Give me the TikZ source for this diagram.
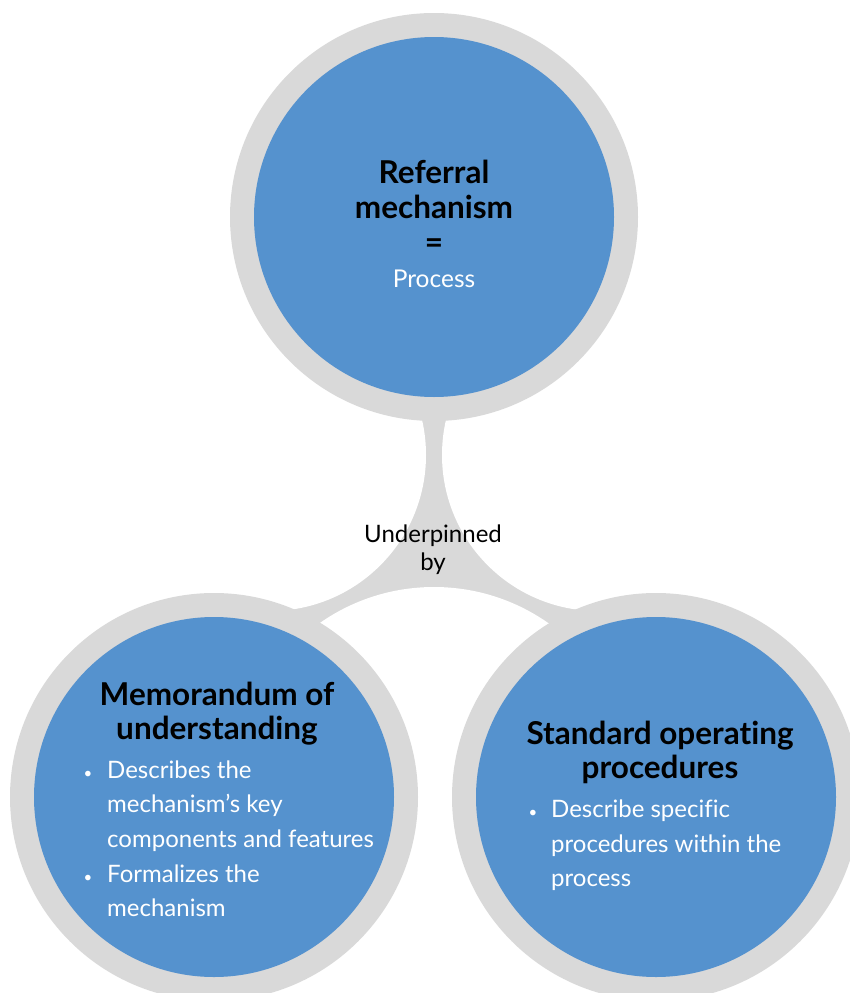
\documentclass[tikz,border=0pt]{standalone}
\usepackage{fontspec}
\setmainfont{Lato}[Ligatures=NoCommon]
\definecolor{blu}{RGB}{85,146,206}
\definecolor{gry}{RGB}{217,217,217}
\begin{document}
\begin{tikzpicture}[x=1pt,y=-1pt,
  ring/.style={circle,fill=gry,minimum size=408pt,inner sep=0pt},
  disc/.style={circle,fill=blu,minimum size=360pt,inner sep=0pt},
  ttl/.style={font=\fontsize{31.5}{35}\selectfont\bfseries,text=black,inner sep=0pt,anchor=base},
  body/.style={font=\fontsize{24}{34}\selectfont,text=white,inner sep=0pt,anchor=base west},
  ctr/.style={font=\fontsize{24.5}{34}\selectfont,text=white,inner sep=0pt,anchor=base},
  bul/.style={font=\fontsize{15}{20}\selectfont,text=white,inner sep=0pt,anchor=base},
  lbl/.style={font=\fontsize{24}{34}\selectfont,text=black,inner sep=0pt,anchor=base}]
\useasboundingbox (0,0) rectangle (850,993);
\clip (0,0) rectangle (850,993);
\coordinate (ct) at (434,217);
\coordinate (cl) at (214,797);
\coordinate (cr) at (656,797);
% junction
\fill[gry] (ct) -- (cl) -- (cr) -- cycle;
\fill[white] (270,455) circle[radius=156];
\fill[white] (598,455) circle[radius=156];
\fill[white] (434,786) circle[radius=199];
% circles
\node[ring] (rt) at (ct) {};
\node[ring] (rl) at (cl) {};
\node[ring] (rr) at (cr) {};
\node[disc] (dt) at (ct) {};
\node[disc] (dl) at (cl) {};
\node[disc] (dr) at (cr) {};
% top text
\node[ttl] (t1) at (434,183) {Referral};
\node[ttl] (t2) at (434,218) {mechanism};
\node[ttl] (t3) at (434,253) {=};
\node[ctr] (t4) at (434,287) {Process};
% label
\node[lbl] (u1) at (433,542) {Underpinned};
\node[lbl] (u2) at (433,570) {by};
% left text
\node[ttl] (l1) at (217,705) {Memorandum of};
\node[ttl] (l2) at (217,739) {understanding};
\node[bul] (lb1) at (88,778) {•};
\node[body] (l3) at (107,778) {Describes the};
\node[body] (l4) at (107,812) {mechanism’s key};
\node[body] (l5) at (107,847) {components and features};
\node[bul] (lb2) at (88,882) {•};
\node[body] (l6) at (107,882) {Formalizes the};
\node[body] (l7) at (107,916) {mechanism};
% right text
\node[ttl] (r1) at (660,744) {Standard operating};
\node[ttl] (r2) at (660,778) {procedures};
\node[bul] (rb1) at (533,817) {•};
\node[body] (r3) at (551,817) {Describe specific};
\node[body] (r4) at (551,852) {procedures within the};
\node[body] (r5) at (551,886) {process};
\end{tikzpicture}
\end{document}
